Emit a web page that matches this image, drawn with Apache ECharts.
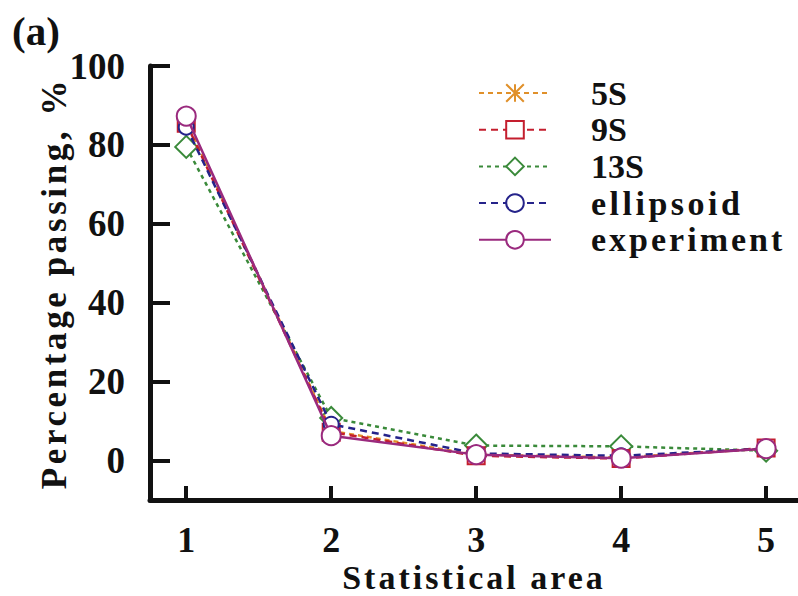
<!DOCTYPE html>
<html>
<head>
<meta charset="utf-8">
<script src="https://cdn.jsdelivr.net/npm/echarts@6.0.0/dist/echarts.min.js"></script>
<style>
html,body{margin:0;padding:0;background:#fff}
#main{width:798px;height:596px}
</style>
</head>
<body>
<div id="main"></div>
<script>
// statistical areas (x) and percentage passing per model
const areas = [1, 2, 3, 4, 5];
const s5 = [86.0, 7.5, 1.5, 0.8, 3.0];
const s9 = [85.5, 7.2, 1.2, 0.5, 3.2];
const s13 = [79.5, 10.8, 3.8, 3.6, 2.5];
const ellipsoid = [84.5, 9.2, 1.8, 1.2, 3.0];
const experiment = [87.3, 6.3, 1.5, 0.6, 3.0];
const yTicks = [0, 20, 40, 60, 80, 100];

const FONT = "'Liberation Serif', 'Times New Roman', serif";
const INK = '#111';

const pairs = vals => areas.map((a, i) => [a, vals[i]]);

function lineSeries(name, vals, color, lineType, symbol, size, z){
    return {
        name: name, type: 'line', data: pairs(vals),
        symbol: symbol, symbolSize: size, z: z,
        lineStyle: {color: color, width: 2.5, type: lineType},
        itemStyle: {color: color, borderColor: color, borderWidth: 2.5}
    };
}

const chart = echarts.init(document.getElementById('main'), null, {renderer: 'svg'});
chart.setOption({
    animation: false,
    backgroundColor: '#fff',
    graphic: [{type: 'text', left: 12, top: 10,
        style: {text: '(a)', font: 'bold 41px ' + FONT, fill: INK}}],
    legend: {
        orient: 'vertical', left: 473, top: 71,
        itemWidth: 72, itemHeight: 22, itemGap: 2.7,
        data: ['5S', '9S', '13S', 'ellipsoid', 'experiment'],
        textStyle: {fontFamily: FONT, fontWeight: 'bold', fontSize: 34, color: INK, padding: [0, 0, 0, 35]}
    },
    grid: {left: 150, right: 0, top: 66, bottom: 96, outerBoundsMode: 'none'},
    xAxis: {
        type: 'value', min: 0.75, max: 5.22,
        name: 'Statistical area', nameLocation: 'middle', nameGap: 60, nameMoveOverlap: false,
        nameTextStyle: {fontFamily: FONT, fontWeight: 'bold', fontSize: 34, color: INK},
        axisLine: {onZero: false, lineStyle: {color: INK, width: 5}},
        axisTick: {inside: true, length: 14, customValues: areas, lineStyle: {color: INK, width: 4}},
        axisLabel: {customValues: areas, margin: 22, fontFamily: FONT, fontWeight: 'bold', fontSize: 36, color: INK},
        splitLine: {show: false}
    },
    yAxis: {
        type: 'value', min: -10, max: 100,
        name: 'Percentage passing, %', nameLocation: 'middle', nameGap: 78, nameMoveOverlap: false,
        nameTextStyle: {fontFamily: FONT, fontWeight: 'bold', fontSize: 35, color: INK},
        axisLine: {show: true, onZero: false, lineStyle: {color: INK, width: 5}},
        axisTick: {show: true, inside: true, length: 20, customValues: yTicks, lineStyle: {color: INK, width: 4}},
        axisLabel: {customValues: yTicks, margin: 25, fontFamily: FONT, fontWeight: 'bold', fontSize: 37, color: INK},
        splitLine: {show: false}
    },
    series: [
        lineSeries('5S', s5, '#e0902a', [5, 4], 'path://M0,0L10,10M10,0L0,10M5,0L5,10', 14, 3),
        lineSeries('9S', s9, '#c41e2e', [7, 5], 'emptyRect', 17, 4),
        lineSeries('13S', s13, '#3a8a3a', [4, 4], 'emptyDiamond', 22, 2),
        lineSeries('ellipsoid', ellipsoid, '#25238a', [7, 5], 'emptyCircle', 15, 5),
        lineSeries('experiment', experiment, '#9a2a7e', 'solid', 'emptyCircle', 19, 6)
    ]
});

// wide lettering seen in the original figure
const SPACING = {'Percentage passing, %': 3.6, 'Statistical area': 3, 'ellipsoid': 3.5, 'experiment': 3};
function spaceText(){
    document.querySelectorAll('#main text').forEach(t => {
        const s = SPACING[t.textContent.trim()];
        if (s) t.setAttribute('letter-spacing', s);
    });
}
spaceText();
chart.on('finished', spaceText);
</script>
</body>
</html>
